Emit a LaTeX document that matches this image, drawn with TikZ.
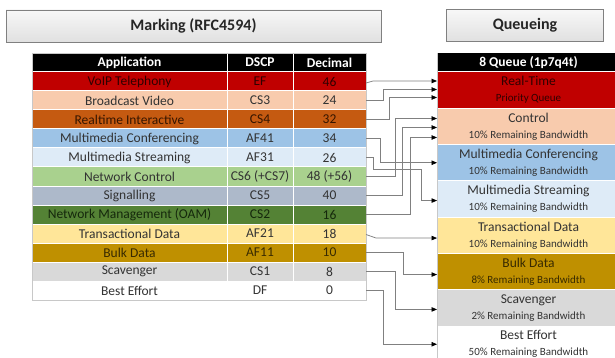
\documentclass[tikz,border=0pt]{standalone}
\usepackage{fontspec}
\setmainfont{Carlito}
\usetikzlibrary{arrows.meta,calc}

% row fills
\definecolor{cvoip}{HTML}{C00000}
\definecolor{cbcast}{HTML}{F8CBAD}
\definecolor{crti}{HTML}{C55A11}
\definecolor{cmmc}{HTML}{9DC3E6}
\definecolor{cmms}{HTML}{DEEBF7}
\definecolor{cnc}{HTML}{A9D18E}
\definecolor{csig}{HTML}{ADB9CA}
\definecolor{coam}{HTML}{548235}
\definecolor{ctd}{HTML}{FFE699}
\definecolor{cbulk}{HTML}{BF9000}
\definecolor{cscav}{HTML}{D9D9D9}
\definecolor{cbe}{HTML}{FFFFFF}
% text colours
\definecolor{txt}{HTML}{333333}
\definecolor{tvoip}{HTML}{300000}
\definecolor{trti}{HTML}{351500}
\definecolor{toam}{HTML}{15280C}
\definecolor{tbulk}{HTML}{382A00}
\definecolor{linegray}{HTML}{808080}
\definecolor{edgegray}{HTML}{C8C8C8}

\newcommand{\qsubline}[1]{{\fontsize{11}{16}\selectfont #1}}

\begin{document}
\begin{tikzpicture}[x=1pt,y=-1pt,
  cell/.style={rectangle, draw=white, line width=1pt, inner sep=0pt, outer sep=0pt,
    minimum height=19pt, font=\fontsize{13.5}{16}\selectfont, text=txt},
  appcell/.style={cell, minimum width=195pt},
  dscpcell/.style={cell, minimum width=66pt},
  deccell/.style={cell, minimum width=73pt},
  hdr/.style={fill=black, text=white, font=\bfseries\fontsize{13.5}{16}\selectfont},
  qbox/.style={rectangle, draw=white, line width=1pt, inner sep=0pt, outer sep=0pt,
    minimum width=183pt, minimum height=36.3pt, align=center, text=txt,
    font=\fontsize{13.5}{16}\selectfont},
  headbox/.style={rectangle, draw=linegray, line width=0.8pt, top color=gray!6,
    bottom color=gray!24, minimum height=32pt, inner sep=0pt,
    font=\bfseries\fontsize{16}{18}\selectfont, text=black!85},
  conn/.style={draw=linegray, line width=0.75pt,
    -{Triangle[length=5.5pt,width=4.5pt,color=black]}}
]
\useasboundingbox (0,0) rectangle (615,358);
\path[clip] (0,0) rectangle (615,358);
\fill[white] (0,0) rectangle (615,358);

% section headings
\node[headbox, minimum width=375pt] (mark) at (193.5,26) {Marking (RFC4594)};
\node[headbox, minimum width=157pt] (queue) at (525,25.5) {Queueing};

% marking table: header
\node[appcell, hdr]  (a0) at (129.5,62.5) {Application};
\node[dscpcell, hdr] (d0) at (260,62.5) {DSCP};
\node[deccell, hdr]  (n0) at (329.5,62.5) {Decimal};

% marking table: rows
\foreach \i/\app/\dscp/\dec/\fc/\tc in {
  1/VoIP Telephony/EF/46/cvoip/tvoip,
  2/Broadcast Video/CS3/24/cbcast/txt,
  3/Realtime Interactive/CS4/32/crti/trti,
  4/Multimedia Conferencing/AF41/34/cmmc/txt,
  5/Multimedia Streaming/AF31/26/cmms/txt,
  6/Network Control/CS6 (+CS7)/48 (+56)/cnc/txt,
  7/Signalling/CS5/40/csig/txt,
  8/Network Management (OAM)/CS2/16/coam/toam,
  9/Transactional Data/AF21/18/ctd/txt,
  10/Bulk Data/AF11/10/cbulk/tbulk,
  11/Scavenger/CS1/8/cscav/txt,
  12/Best Effort/DF/0/cbe/txt} {
  \node[appcell, fill=\fc, text=\tc]  (a\i) at (129.5,{81.5+19*(\i-1)}) {\app};
  \node[dscpcell, fill=\fc, text=\tc] (d\i) at (260,{81.5+19*(\i-1)}) {\dscp};
  \node[deccell, fill=\fc, text=\tc]  (n\i) at (329.5,{81.5+19*(\i-1)}) {\dec};
}
\draw[edgegray, line width=0.8pt] (a0.north west) rectangle (n12.south east);

% queueing table
\node[qbox, hdr, minimum height=19pt] (q0) at (528.5,62.5) {8 Queue (1p7q4t)};
\node[qbox, fill=cvoip, text=tvoip] (q1) at (528.5,90.15)
  {Real-Time\\\qsubline{Priority Queue}};
\node[qbox, fill=cbcast] (q2) at (528.5,126.45)
  {Control\\\qsubline{10\% Remaining Bandwidth}};
\node[qbox, fill=cmmc] (q3) at (528.5,162.75)
  {Multimedia Conferencing\\\qsubline{10\% Remaining Bandwidth}};
\node[qbox, fill=cmms] (q4) at (528.5,199.05)
  {Multimedia Streaming\\\qsubline{10\% Remaining Bandwidth}};
\node[qbox, fill=ctd] (q5) at (528.5,235.35)
  {Transactional Data\\\qsubline{10\% Remaining Bandwidth}};
\node[qbox, fill=cbulk, text=tbulk] (q6) at (528.5,271.65)
  {Bulk Data\\\qsubline{8\% Remaining Bandwidth}};
\node[qbox, fill=cscav] (q7) at (528.5,307.95)
  {Scavenger\\\qsubline{2\% Remaining Bandwidth}};
\node[qbox, fill=cbe] (q8) at (528.5,344.25)
  {Best Effort\\\qsubline{50\% Remaining Bandwidth}};
\draw[edgegray, line width=0.8pt] (q0.north west) -- (q8.south west);

% class-to-queue connectors
\draw[conn] ($(n1.east)+(0,1.5)$) -- ++(7,-2) -- ($(q1.north west)+(0,9)$);
\draw[conn] (n2.east) -- ++(17,0) |- ($(q1.north west)+(0,17.5)$);
\draw[conn] (n3.east) -- ++(23,0) |- ($(q1.north west)+(0,25.5)$);
\draw[conn] (n6.east) -- ++(29,0) |- ($(q2.north west)+(0,10.2)$);
\draw[conn] (n7.east) -- ++(36,0) |- ($(q2.north west)+(0,19.2)$);
\draw[conn] (n8.east) -- ++(44,0) |- ($(q2.north west)+(0,29.2)$);
\draw[conn] (n4.east) -- ++(14,0) |- (q3.west);
\draw[conn] (n5.east) -- ++(7,0) -- ++(0,12) -- ++(48,0) |- ($(q4.west)+(0,1.5)$);
\draw[conn] ($(n9.east)+(0,1)$) -- ++(10,3.5) -- ($(q5.west)+(0,2.7)$);
\draw[conn] (n10.east) -- ++(37,0) |- ($(q6.west)+(0,2.9)$);
\draw[conn] (n11.east) -- ++(29,0) |- ($(q7.west)+(0,1.5)$);
\draw[conn] (n12.east) -- ++(17,0) |- (q8.west);
\end{tikzpicture}
\end{document}
